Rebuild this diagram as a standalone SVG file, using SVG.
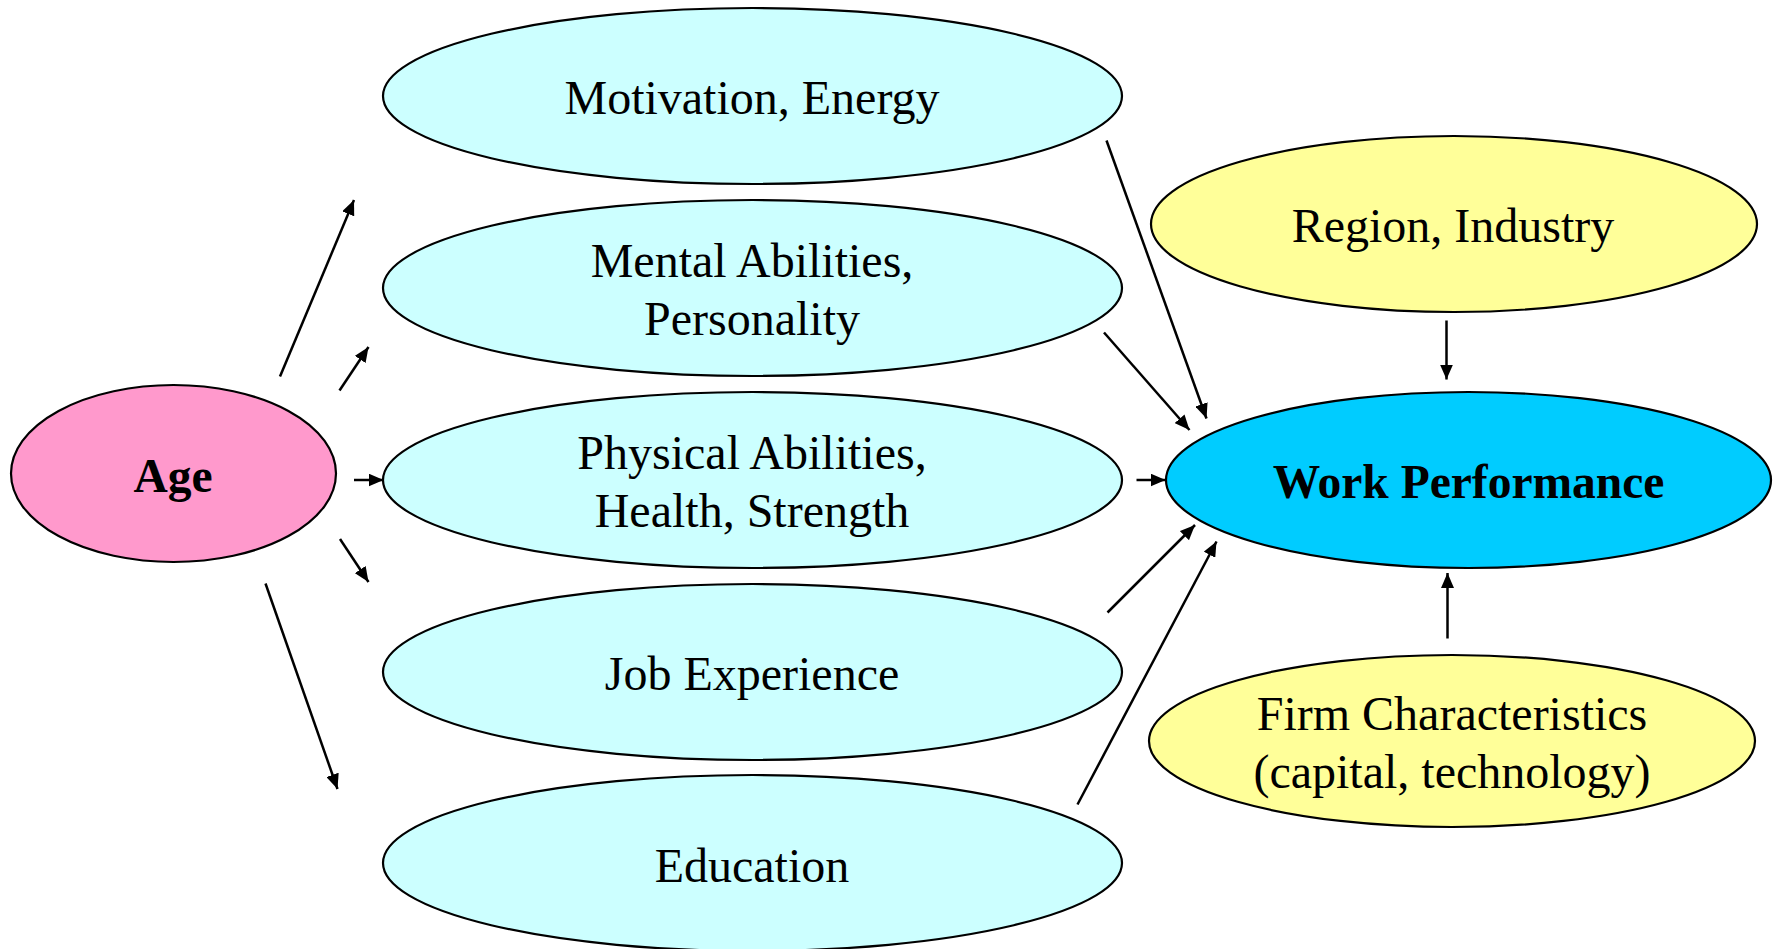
<svg xmlns="http://www.w3.org/2000/svg" width="1777" height="949" viewBox="0 0 1777 949">
  <style>
    .node { stroke: #000; stroke-width: 2.2; }
    .factor { fill: #CCFFFF; }
    .age { fill: #FF99CC; }
    .context { fill: #FFFF99; }
    .outcome { fill: #00CCFF; }
    text { font-family: "Liberation Serif", "Times New Roman", serif; font-size: 48px; fill: #000; text-anchor: middle; }
    .bold { font-weight: bold; font-size: 47.5px; }
    .edge { stroke: #000; stroke-width: 2.5; fill: none; marker-end: url(#arrow); }
  </style>
  <defs>
    <marker id="arrow" markerUnits="userSpaceOnUse" markerWidth="16" markerHeight="13" refX="15" refY="6.5" orient="auto">
      <path d="M0,0 L15,6.5 L0,13 z" fill="#000"/>
    </marker>
  </defs>
  <rect width="1777" height="949" fill="#fff"/>

  <!-- Age -->
  <g id="node-age">
    <ellipse class="node age" cx="173.5" cy="473.5" rx="162.5" ry="88.5"/>
    <text class="bold" x="173" y="491.5">Age</text>
  </g>

  <!-- Intermediate factors -->
  <g id="node-motivation">
    <ellipse class="node factor" cx="752.5" cy="96" rx="369.5" ry="88"/>
    <text x="752" y="114">Motivation, Energy</text>
  </g>
  <g id="node-mental">
    <ellipse class="node factor" cx="752.5" cy="288" rx="369.5" ry="88"/>
    <text x="752" y="276.5">Mental Abilities,</text>
    <text x="752" y="334.5">Personality</text>
  </g>
  <g id="node-physical">
    <ellipse class="node factor" cx="752.5" cy="480" rx="369.5" ry="88"/>
    <text x="752" y="468.5">Physical Abilities,</text>
    <text x="752" y="526.5">Health, Strength</text>
  </g>
  <g id="node-job">
    <ellipse class="node factor" cx="752.5" cy="672" rx="369.5" ry="88"/>
    <text x="752" y="689.5">Job Experience</text>
  </g>
  <g id="node-education">
    <ellipse class="node factor" cx="752.5" cy="863" rx="369.5" ry="88"/>
    <text x="752" y="881.5">Education</text>
  </g>

  <!-- Context factors -->
  <g id="node-region">
    <ellipse class="node context" cx="1454" cy="224" rx="303" ry="88"/>
    <text x="1453" y="241.5">Region, Industry</text>
  </g>
  <g id="node-firm">
    <ellipse class="node context" cx="1452" cy="741" rx="303" ry="86"/>
    <text x="1452" y="730">Firm Characteristics</text>
    <text x="1452" y="788">(capital, technology)</text>
  </g>

  <!-- Outcome -->
  <g id="node-performance">
    <ellipse class="node outcome" cx="1468.5" cy="480" rx="302.5" ry="88"/>
    <text class="bold" x="1468.5" y="498">Work Performance</text>
  </g>

  <!-- Connectors -->
  <g id="connectors">
    <line class="edge" x1="280" y1="376.5" x2="354" y2="200"/>
    <line class="edge" x1="339.5" y1="390.5" x2="368.5" y2="347"/>
    <line class="edge" x1="354" y1="480" x2="383.5" y2="480"/>
    <line class="edge" x1="340" y1="539" x2="368.5" y2="582"/>
    <line class="edge" x1="265.5" y1="583.5" x2="337.5" y2="789"/>

    <line class="edge" x1="1106.5" y1="140.5" x2="1206.5" y2="418.5"/>
    <line class="edge" x1="1104" y1="332.5" x2="1189.5" y2="430"/>
    <line class="edge" x1="1136.5" y1="480" x2="1165.5" y2="480"/>
    <line class="edge" x1="1107.5" y1="612.5" x2="1195" y2="525"/>
    <line class="edge" x1="1077.5" y1="804.5" x2="1216.5" y2="541.5"/>

    <line class="edge" x1="1446.5" y1="320.5" x2="1446.5" y2="379.5"/>
    <line class="edge" x1="1447.5" y1="638.5" x2="1447.5" y2="573"/>
  </g>
</svg>
